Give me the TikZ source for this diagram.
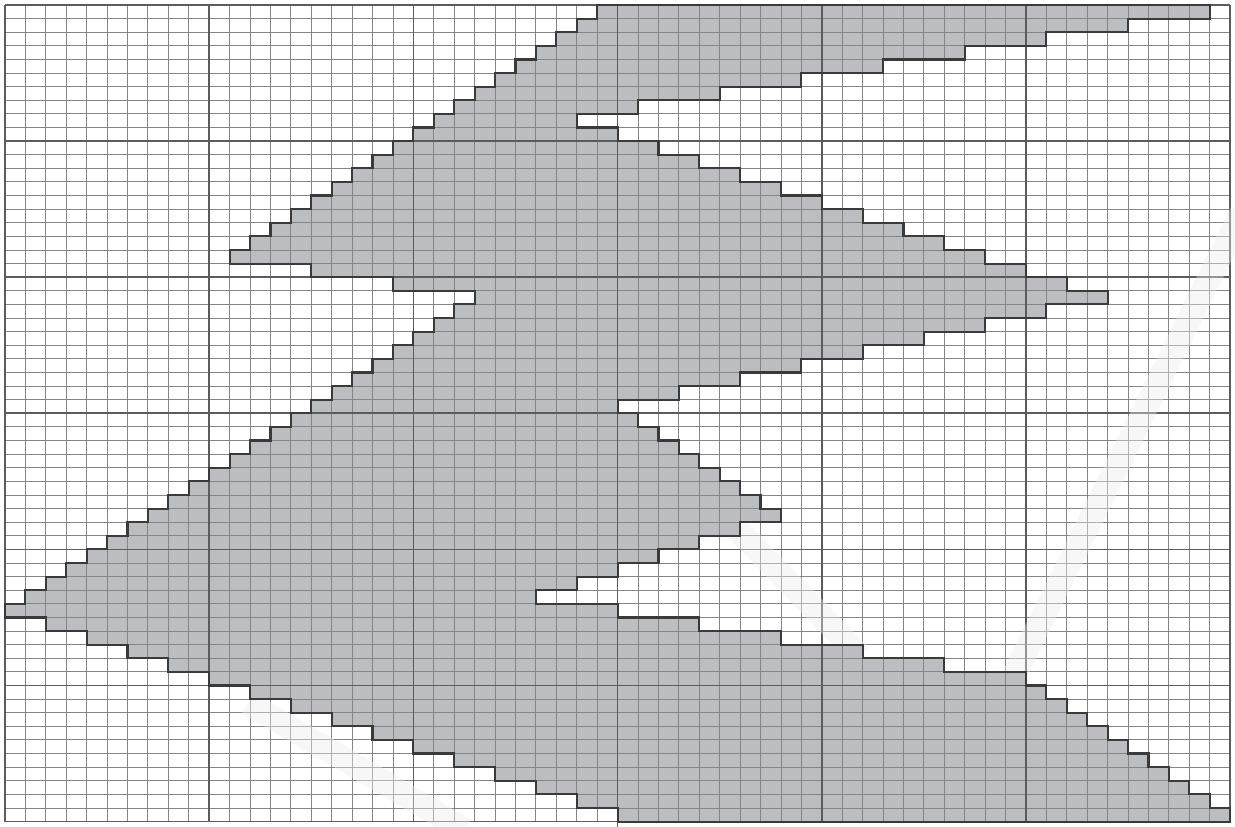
\documentclass[tikz,border=0pt]{standalone}
\usepackage{tikz}
\definecolor{fillg}{HTML}{BCBDC1}
\definecolor{minorc}{HTML}{858585}
\definecolor{majorc}{HTML}{5C5C5C}
\definecolor{outc}{HTML}{3A3A3A}
\definecolor{bandc}{HTML}{F3F3F3}
\newcommand{\shapepath}{(29,0)
  \foreach \r/\c in {0/59,1/55,2/51,3/47,4/43,5/39,6/35,7/31,8/28,9/30,
    10/32,11/34,12/36,13/38,14/40,15/42,16/44,17/46,18/48,19/50,
    20/52,21/54,22/51,23/48,24/45,25/42,26/39,27/36,28/33,29/30,
    30/31,31/32,32/33,33/34,34/35,35/36,36/37,37/38,38/36,39/34,
    40/32,41/30,42/28,43/26,44/30,45/34,46/38,47/42,48/46,49/50,
    50/51,51/52,52/53,53/54,54/55,55/56,56/57,57/58,58/59,59/60} { -- (\c,\r) -- (\c,\r+1) }
  -- (30,60)
  \foreach \r/\c in {59/30,58/28,57/26,56/24,55/22,54/20,53/18,52/16,51/14,50/12,
    49/10,48/8,47/6,46/4,45/2,44/0,43/1,42/2,41/3,40/4,
    39/5,38/6,37/7,36/8,35/9,34/10,33/11,32/12,31/13,30/14,
    29/15,28/16,27/17,26/18,25/19,24/20,23/21,22/22,21/23,20/19,
    19/15,18/11,17/12,16/13,15/14,14/15,13/16,12/17,11/18,10/19,
    9/20,8/21,7/22,6/23,5/24,4/25,3/26,2/27,1/28,0/29} { -- (\c,\r+1) -- (\c,\r) }
  -- cycle}
\newcommand{\gridlines}{%
  \foreach \i in {0,...,60} {\draw[minorline] (\i,0) -- (\i,60); \draw[minorline] (0,\i) -- (60,\i);}
  \foreach \i in {0,10,...,60} {\draw[majorline] (\i,0) -- (\i,60); \draw[majorline] (0,\i) -- (60,\i);}}
\begin{document}
\begin{tikzpicture}[x=0.75pt,y=-0.75pt,
  minorline/.style={draw=minorc,line width=0.7pt},
  majorline/.style={draw=majorc,line width=1.3pt},
  outline/.style={draw=outc,line width=1.6pt,line join=miter},
  band/.style={draw=bandc,line width=18pt,line cap=butt},
  bandlight/.style={draw=white,opacity=0.35,line width=18pt,line cap=butt},
  cellunits/.style={shift={(5,5)},x=15.315pt,y=-10.2075pt}]
\useasboundingbox (0,0) rectangle (1235,826);
\fill[white] (0,0) rectangle (1235,826);
% faint diagonal bands
\coordinate (ba1) at (248,703); \coordinate (ba2) at (465,830);
\coordinate (bb1) at (738,530); \coordinate (bb2) at (860,656);
\coordinate (bc1) at (1242,212); \coordinate (bc2) at (1008,688);
\draw[band] (ba1) -- (ba2);
\draw[band] (bb1) -- (bb2);
\draw[band] (bc1) -- (bc2);
\begin{scope}[cellunits]
  \gridlines
\end{scope}
\draw[bandlight] (ba1) -- (ba2);
\draw[bandlight] (bb1) -- (bb2);
\draw[bandlight] (bc1) -- (bc2);
\begin{scope}[cellunits]
  \fill[fillg] \shapepath;
  \begin{scope}
    \clip \shapepath;
    \gridlines
  \end{scope}
  \draw[outline] \shapepath;
  \draw[majorline] (30,60) -- (30,60.4);
\end{scope}
\end{tikzpicture}
\end{document}
